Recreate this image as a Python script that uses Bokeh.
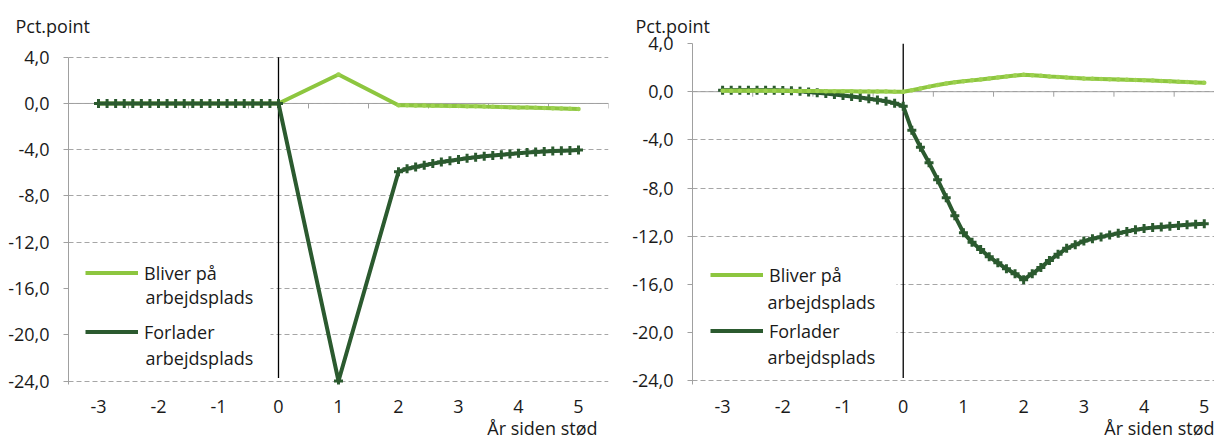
from bokeh.plotting import figure
from bokeh.models import (Range1d, FixedTicker, Span, Label, Legend, LegendItem, Title,
                          BoxAnnotation, CustomJSTickFormatter)
from bokeh.layouts import row
from bokeh.embed import file_html
from bokeh.resources import INLINE

# ---------------- data ----------------
STEPS_PER_YEAR = 7          # observations per year on the horizontal axis

X_TICKS = [-3, -2, -1, 0, 1, 2, 3, 4, 5]
Y_TICKS = [-24, -20, -16, -12, -8, -4, 0, 4]
Y_TITLE = "Pct.point"
X_TITLE = "År siden stød"
SERIES_FIRST = ["Bliver på", "Forlader"]
SERIES_SECOND = ["arbejdsplads", "arbejdsplads"]

# left panel: dense observations before the shock and from year 2, single points at 0-1-2
left_pre_x = [-3 + k / STEPS_PER_YEAR for k in range(22)]
left_post_x = [2 + k / STEPS_PER_YEAR for k in range(22)]
left_x = left_pre_x + [1] + left_post_x

left_bliver_pre = [0.0, 0.0, 0.0, 0.0, 0.0, 0.0, 0.0, 0.0, 0.0, 0.0, 0.0,
                   0.0, 0.0, 0.0, 0.0, 0.0, 0.0, 0.0, 0.0, 0.0, 0.0, 0.0]
left_bliver_y1 = [2.5]
left_bliver_post = [-0.15, -0.16, -0.17, -0.18, -0.19, -0.2, -0.21, -0.22, -0.24, -0.25, -0.27,
                    -0.28, -0.3, -0.32, -0.34, -0.36, -0.38, -0.4, -0.42, -0.44, -0.46, -0.48]

left_forlader_pre = [0.0, 0.0, 0.0, 0.0, 0.0, 0.0, 0.0, 0.0, 0.0, 0.0, 0.0,
                     0.0, 0.0, 0.0, 0.0, 0.0, 0.0, 0.0, 0.0, 0.0, 0.0, 0.0]
left_forlader_y1 = [-24.0]
left_forlader_post = [-5.9, -5.65, -5.5, -5.35, -5.2, -5.07, -4.95, -4.84, -4.74, -4.65, -4.57,
                      -4.5, -4.43, -4.37, -4.3, -4.25, -4.2, -4.16, -4.12, -4.09, -4.06, -4.03]

left_bliver = left_bliver_pre + left_bliver_y1 + left_bliver_post
left_forlader = left_forlader_pre + left_forlader_y1 + left_forlader_post

# right panel: dense observations over the whole period
right_x = [-3 + k / STEPS_PER_YEAR for k in range(57)]
right_bliver = [0.08, 0.08, 0.08, 0.08, 0.08, 0.07, 0.07, 0.07, 0.06, 0.06, 0.05,
                0.05, 0.04, 0.04, 0.03, 0.03, 0.02, 0.02, 0.01, 0.01, 0.0, 0.0,
                0.12, 0.27, 0.42, 0.56, 0.68, 0.78, 0.86, 0.94, 1.02, 1.1, 1.18,
                1.26, 1.34, 1.4, 1.36, 1.32, 1.27, 1.23, 1.18, 1.14, 1.1, 1.08,
                1.06, 1.04, 1.02, 1.0, 0.98, 0.95, 0.92, 0.89, 0.86, 0.83, 0.8,
                0.77, 0.74]
right_forlader = [0.12, 0.12, 0.12, 0.12, 0.12, 0.12, 0.11, 0.1, 0.07, 0.03, -0.02,
                  -0.08, -0.15, -0.23, -0.32, -0.4, -0.49, -0.58, -0.68, -0.8, -0.95, -1.2,
                  -3.2, -4.6, -5.9, -7.3, -8.8, -10.3, -11.7, -12.5, -13.1, -13.7, -14.2,
                  -14.7, -15.1, -15.6, -15.1, -14.6, -14.0, -13.5, -13.0, -12.7, -12.4, -12.2,
                  -12.05, -11.9, -11.75, -11.6, -11.45, -11.35, -11.28, -11.22, -11.16, -11.1, -11.05,
                  -11.0, -10.95]

# ---------------- style ----------------
FONT = "Open Sans"
FS = "18px"
TEXT = "#1a1a1a"
LIGHT = "#8dc63f"
LIGHT_MARK = "#9dd150"
DARK = "#2b5a2f"
GRID = "#a6a6a6"
AXIS = "#a0a0a0"
HEIGHT = 439
B_TOP = 43
B_BOTTOM = 55
Y_START = -24.3
TICK_PX = 5


def make_panel(xs, bliver, forlader, width, b_left, b_right, x_end, y_end,
               legend_loc, legend_spacing, second_xy, legend_box, light_on_top,
               title_offset, xtitle_offset):
    p = figure(width=width, height=HEIGHT, x_range=Range1d(-3.5, x_end),
               y_range=Range1d(Y_START, y_end), output_backend="svg", toolbar_location=None,
               min_border_left=b_left, min_border_right=b_right,
               min_border_top=B_TOP, min_border_bottom=B_BOTTOM)
    p.outline_line_color = None
    p.background_fill_color = "white"
    p.border_fill_color = "white"
    py = (HEIGHT - B_TOP - B_BOTTOM) / (y_end - Y_START)   # px per y unit
    px = (width - b_left - b_right) / (x_end + 3.5)         # px per x unit

    def dx(sx):   # screen x inside the figure -> data x
        return -3.5 + (sx - b_left) / px

    def dy(sy):   # screen y inside the figure -> data y
        return y_end - (sy - B_TOP) / py

    p.title.text = Y_TITLE
    p.title.align = "left"
    p.title.offset = title_offset
    p.title.standoff = 12
    p.title.text_font = FONT
    p.title.text_font_size = FS
    p.title.text_font_style = "normal"
    p.title.text_color = TEXT

    p.xgrid.visible = False
    p.ygrid.ticker = FixedTicker(ticks=Y_TICKS)
    p.ygrid.grid_line_color = GRID
    p.ygrid.grid_line_dash = "5 3"
    p.ygrid.grid_line_width = 1

    # white area behind the legend hides the gridlines there
    bl, bt, br, bb = legend_box
    p.add_layout(BoxAnnotation(left=dx(bl), right=dx(br), top=dy(bt), bottom=dy(bb),
                               fill_color="white", fill_alpha=1.0, line_color=None,
                               level="underlay"))

    yax = p.yaxis[0]
    yax.ticker = FixedTicker(ticks=Y_TICKS, minor_ticks=[])
    yax.bounds = (Y_START, max(Y_TICKS))
    yax.formatter = CustomJSTickFormatter(code="return tick.toFixed(1).replace('.', ',');")
    yax.axis_line_color = AXIS
    yax.major_tick_line_color = AXIS
    yax.major_tick_in = 0
    yax.major_tick_out = TICK_PX
    yax.minor_tick_line_color = None
    yax.major_label_standoff = 14
    yax.major_label_text_font = FONT
    yax.major_label_text_font_size = FS
    yax.major_label_text_color = TEXT

    xax = p.xaxis[0]
    xax.ticker = FixedTicker(ticks=X_TICKS, minor_ticks=[])
    xax.formatter = CustomJSTickFormatter(code="return tick.toFixed(0);")
    xax.axis_line_color = None
    xax.major_tick_line_color = None
    xax.minor_tick_line_color = None
    xax.major_tick_out = 0
    xax.major_tick_in = 0
    xax.major_label_standoff = 15
    xax.major_label_text_font = FONT
    xax.major_label_text_font_size = FS
    xax.major_label_text_color = TEXT

    xt = Title(text=X_TITLE, align="right", offset=xtitle_offset, standoff=-3,
               text_font=FONT, text_font_size=FS, text_font_style="normal", text_color=TEXT)
    p.add_layout(xt, "below")

    # horizontal axis line at zero with category separators
    p.add_layout(Span(location=0, dimension="width", line_color=AXIS, line_width=1, level="underlay"))
    sep = [t + 0.5 for t in X_TICKS if t + 0.5 <= x_end]
    p.segment(x0=sep, y0=[0] * len(sep), x1=sep, y1=[-TICK_PX / py] * len(sep),
              line_color=AXIS, line_width=1)
    # shock marker at year 0
    p.segment(x0=[0], y0=[max(Y_TICKS)], x1=[0], y1=[min(Y_TICKS) + 3 / py],
              line_color="black", line_width=1.3)

    def draw_light():
        r = p.line(xs, bliver, line_color=LIGHT, line_width=4)
        p.scatter(xs, bliver, marker="circle", size=4.5, fill_color=LIGHT_MARK, line_color=None)
        return r

    def draw_dark():
        r = p.line(xs, forlader, line_color=DARK, line_width=4)
        p.scatter(xs, forlader, marker="cross", size=9, line_color=DARK, line_width=3)
        return r

    if light_on_top:
        rd = draw_dark()
        rl = draw_light()
    else:
        rl = draw_light()
        rd = draw_dark()

    legend = Legend(items=[LegendItem(label=SERIES_FIRST[0], renderers=[rl]),
                           LegendItem(label=SERIES_FIRST[1], renderers=[rd])],
                    location=legend_loc, orientation="vertical",
                    glyph_width=53, glyph_height=25, label_height=25, label_standoff=6,
                    spacing=legend_spacing, padding=10, margin=0,
                    background_fill_alpha=0.0, border_line_color=None,
                    label_text_font=FONT, label_text_font_size=FS,
                    label_text_color=TEXT)
    p.add_layout(legend)

    # second line of each legend entry
    for (sx, sy), txt in zip(second_xy, SERIES_SECOND):
        p.add_layout(Label(x=dx(sx), y=dy(sy), text=txt, text_font=FONT, text_font_size=FS,
                           text_color=TEXT, text_baseline="middle", text_align="left"))
    return p


left = make_panel(left_x, left_bliver, left_forlader, width=610, b_left=68, b_right=2,
                  x_end=5.5, y_end=4 + 13.7 / 11.57, legend_loc=(17, 40), legend_spacing=34,
                  second_xy=[(145, 296), (145, 357)], legend_box=(68, 255, 270, 372),
                  light_on_top=False, title_offset=-53, xtitle_offset=11)
right = make_panel(right_x, right_bliver, right_forlader, width=604, b_left=82, b_right=0,
                   x_end=5.17, y_end=4.0, legend_loc=(18, 41), legend_spacing=31,
                   second_xy=[(157, 301), (157, 356)], legend_box=(82, 258, 286, 370),
                   light_on_top=True, title_offset=-57, xtitle_offset=0)

layout = row(left, right)
open("out.html", "w").write(file_html(layout, INLINE))
